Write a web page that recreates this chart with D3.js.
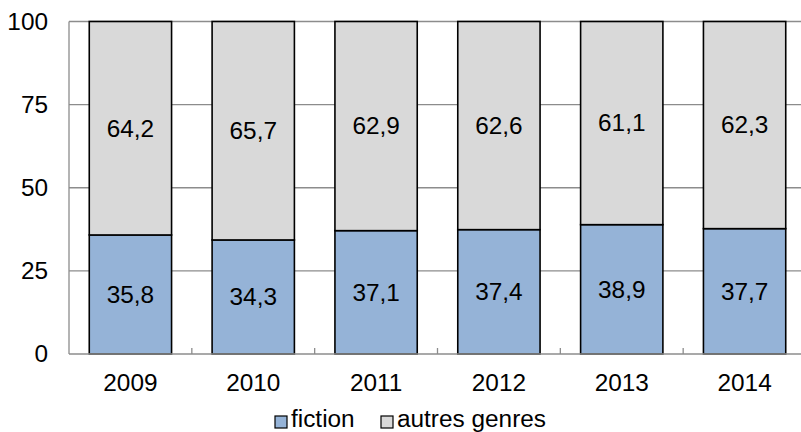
<!DOCTYPE html>
<html>
<head>
<meta charset="utf-8">
<script src="https://cdn.jsdelivr.net/npm/d3@7"></script>
<style>
  body { margin: 0; background: #fff; }
  svg { display: block; font-family: "Liberation Sans", Arial, sans-serif; }
</style>
</head>
<body>
<svg id="chart" width="801" height="432"></svg>
<script>
var years = ["2009", "2010", "2011", "2012", "2013", "2014"];
var fiction = [35.8, 34.3, 37.1, 37.4, 38.9, 37.7];
var autres = [64.2, 65.7, 62.9, 62.6, 61.1, 62.3];
var yTicks = [0, 25, 50, 75, 100];
var seriesNames = ["fiction", "autres genres"];
var colors = ["#95b3d7", "#d9d9d9"];

var svg = d3.select("#chart");
var stretch = 1.06;

// places a text at (px, py), slightly widened like the original
function place(sel, px, py) {
  sel.attr("transform", function(d, i) {
    return "translate(" + px(d, i) + "," + py(d, i) + ") scale(" + stretch + ",1)";
  });
}

var x = d3.scaleBand()
  .domain(years)
  .range([69, 806])
  .paddingInner(0.33)
  .paddingOuter(0.165);

var y = d3.scaleLinear()
  .domain([0, 100])
  .range([354, 21.5]);

// gridlines
svg.append("g")
  .selectAll("line")
  .data(yTicks.filter(function(d) { return d > 0; }))
  .enter().append("line")
  .attr("x1", 69).attr("x2", 806)
  .attr("y1", function(d) { return y(d); })
  .attr("y2", function(d) { return y(d); })
  .attr("stroke", "#8c8c8c")
  .attr("stroke-width", 1.3);

// y axis line
svg.append("line")
  .attr("x1", 69).attr("x2", 69)
  .attr("y1", y(100)).attr("y2", y(0))
  .attr("stroke", "#8c8c8c").attr("stroke-width", 1.3);

// y tick labels
svg.append("g")
  .selectAll("text")
  .data(yTicks)
  .enter().append("text")
  .attr("dy", "0.36em")
  .attr("text-anchor", "end")
  .attr("font-size", 23)
  .text(function(d) { return d; })
  .call(place, function() { return 48; }, function(d) { return y(d); });

// stacked data
var rows = years.map(function(yr, i) {
  return { year: yr, fiction: fiction[i], autres: autres[i] };
});
var keys = ["fiction", "autres"];
var layers = d3.stack().keys(keys)(rows);

var g = svg.append("g");
layers.forEach(function(layer, li) {
  g.selectAll(".bar" + li)
    .data(layer)
    .enter().append("rect")
    .attr("x", function(d) { return x(d.data.year); })
    .attr("width", x.bandwidth())
    .attr("y", function(d) { return y(d[1]); })
    .attr("height", function(d) { return y(d[0]) - y(d[1]); })
    .attr("fill", colors[li])
    .attr("stroke", "#000")
    .attr("stroke-width", 1.6);

  g.selectAll(".lab" + li)
    .data(layer)
    .enter().append("text")
    .attr("dy", "0.36em")
    .attr("text-anchor", "middle")
    .attr("font-size", 23)
    .text(function(d) { return String(d.data[keys[li]]).replace(".", ","); })
    .call(place,
      function(d) { return x(d.data.year) + x.bandwidth() / 2; },
      function(d) { return (y(d[0]) + y(d[1])) / 2; });
});

// x axis line
svg.append("line")
  .attr("x1", 69).attr("x2", 806)
  .attr("y1", y(0)).attr("y2", y(0))
  .attr("stroke", "#8c8c8c").attr("stroke-width", 1.3);

// x tick marks between categories (inside)
svg.append("g")
  .selectAll("line")
  .data(years.slice(1))
  .enter().append("line")
  .attr("x1", function(d) { return x(d) - x.step() * x.paddingInner() / 2; })
  .attr("x2", function(d) { return x(d) - x.step() * x.paddingInner() / 2; })
  .attr("y1", y(0)).attr("y2", y(0) - 6)
  .attr("stroke", "#8c8c8c").attr("stroke-width", 1.3);

// x labels
svg.append("g")
  .selectAll("text")
  .data(years)
  .enter().append("text")
  .attr("dy", "0.36em")
  .attr("text-anchor", "middle")
  .attr("font-size", 23)
  .text(function(d) { return d; })
  .call(place, function(d) { return x(d) + x.bandwidth() / 2; }, function() { return 383; });

// legend
var legX = [275, 381];
var leg = svg.append("g");
seriesNames.forEach(function(name, i) {
  leg.append("rect")
    .attr("x", legX[i]).attr("y", 416)
    .attr("width", 12).attr("height", 12)
    .attr("fill", colors[i])
    .attr("stroke", "#000").attr("stroke-width", 1.2);
  leg.append("text")
    .datum(name)
    .attr("font-size", 23)
    .text(name)
    .call(place, function() { return legX[i] + 16; }, function() { return 427; });
});
</script>
</body>
</html>
